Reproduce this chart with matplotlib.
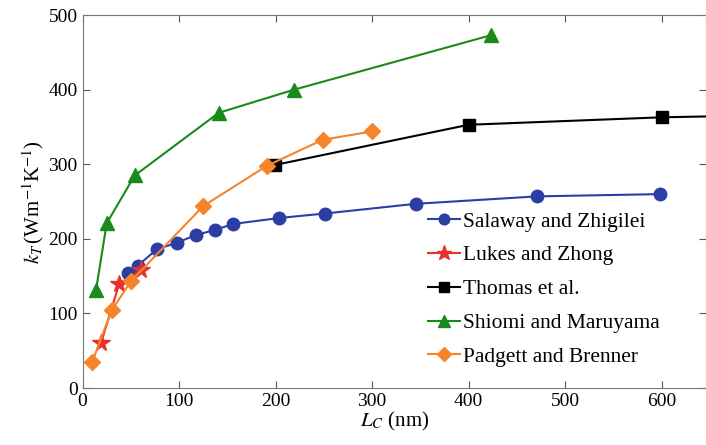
import matplotlib.pyplot as plt

plt.rcParams['font.family'] = 'Liberation Serif'
plt.rcParams['mathtext.fontset'] = 'stix'

# Salaway and Zhigilei
sz_x = [47, 57, 77, 98, 117, 137, 156, 204, 251, 345, 471, 598]
sz_y = [154, 164, 186, 195, 205, 212, 220, 228, 234, 247, 257, 260]
# Lukes and Zhong
lz_x = [19, 38, 61]
lz_y = [60, 140, 158]
# Thomas et al.
th_x = [199, 400, 600, 800]
th_y = [299, 353, 363, 368]
# Shiomi and Maruyama
sm_x = [14, 25, 54, 141, 219, 423]
sm_y = [132, 221, 285, 369, 400, 473]
# Padgett and Brenner
pb_x = [10, 30, 50, 125, 191, 249, 300]
pb_y = [35, 104, 143, 244, 298, 333, 344]

fig = plt.figure(figsize=(7.06, 4.45), dpi=100)
ax = fig.add_axes([0.117, 0.128, 0.883, 0.838])

ax.plot(sz_x, sz_y, '-o', color='#2b3ea6', ms=9, lw=1.5, label='Salaway and Zhigilei')
ax.plot(lz_x, lz_y, '-*', color='#e5312d', ms=13, lw=1.5, label='Lukes and Zhong')
ax.plot(th_x, th_y, '-s', color='black', ms=8, lw=1.5, label='Thomas et al.')
ax.plot(sm_x, sm_y, '-^', color='#1a8a1a', ms=10, lw=1.5, label='Shiomi and Maruyama')
ax.plot(pb_x, pb_y, '-D', color='#f5842a', ms=8, lw=1.5, label='Padgett and Brenner')

ax.set_xlim(0, 646)
ax.set_ylim(0, 500)
ax.set_xticks(range(0, 700, 100))
ax.set_yticks(range(0, 600, 100))
ax.tick_params(direction='in', top=True, right=True, labelsize=14, length=5, color='#555555')
for s in ax.spines.values():
    s.set_color('#777777')

ax.set_xlabel('$L_C$ (nm)', fontsize=15, labelpad=0)
ax.set_ylabel('$k_T\\,$(Wm$^{-1}$K$^{-1}$)', fontsize=15, labelpad=2)

ax.legend(loc='center left', bbox_to_anchor=(0.54, 0.265), frameon=False, fontsize=15.5,
          handlelength=1.5, handletextpad=0.15, labelspacing=0.64, borderaxespad=0,
          markerscale=0.85)

fig.savefig('out.png', dpi=100)
